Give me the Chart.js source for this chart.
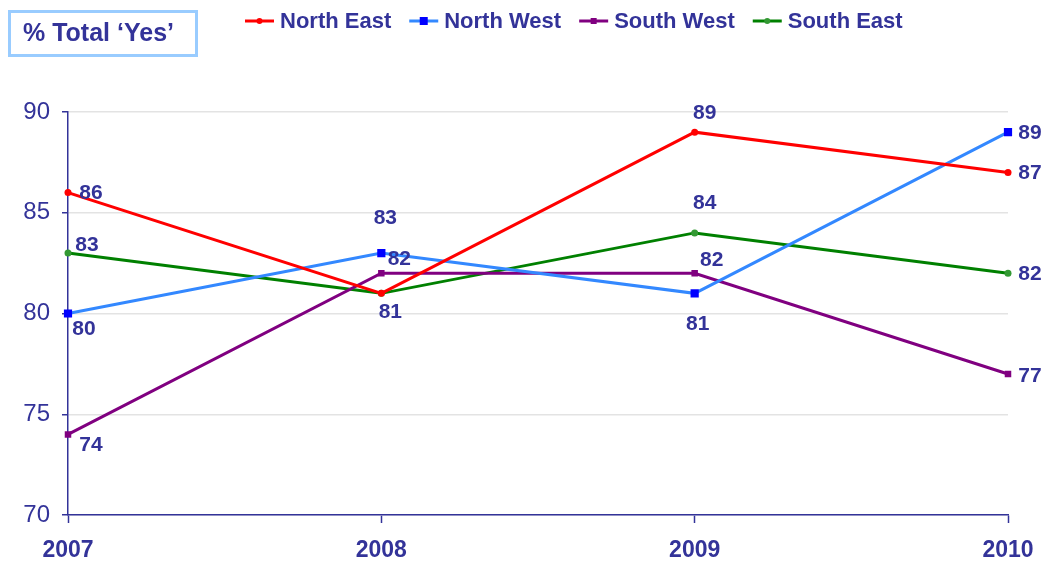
<!DOCTYPE html>
<html>
<head>
<meta charset="utf-8">
<script src="https://cdn.jsdelivr.net/npm/chart.js@4"></script>
<style>
  html, body { margin: 0; padding: 0; background: #fff; }
  #wrap { width: 1045px; height: 564px; }
</style>
</head>
<body>
<div id="wrap"><canvas id="myChart" width="1045" height="564"></canvas></div>
<script>
var years = ['2007', '2008', '2009', '2010'];
var northEast = [86, 81, 89, 87];
var northWest = [80, 83, 81, 89];
var southWest = [74, 82, 82, 77];
var southEast = [83, 81, 84, 82];
var yTicks = [70, 75, 80, 85, 90];

// where each value label sits relative to its point (null = not shown)
var labelOffsets = {
  'North East': [[23, 1], null, [10, -19], [22, 1]],
  'North West': [[16, 16], [4, -35], [3, 31], [22, 1]],
  'South West': [[23, 11], [18, -14], [17, -13], [22, 2]],
  'South East': [[19, -8], [9, 19], [10, -30], [22, 1]]
};

var navy = '#333399';
var font = 'Liberation Sans, Arial, sans-serif';

var valueLabels = {
  id: 'valueLabels',
  afterDatasetsDraw: function(chart) {
    var ctx = chart.ctx;
    ctx.save();
    ctx.font = 'bold 21px ' + font;
    ctx.fillStyle = navy;
    ctx.textAlign = 'center';
    ctx.textBaseline = 'middle';
    chart.data.datasets.forEach(function(ds, i) {
      var offs = labelOffsets[ds.label];
      chart.getDatasetMeta(i).data.forEach(function(pt, j) {
        if (!offs[j]) return;
        ctx.fillText(String(ds.data[j]), pt.x + offs[j][0], pt.y + offs[j][1]);
      });
    });
    ctx.restore();
  }
};

var headerBits = {
  id: 'headerBits',
  afterDraw: function(chart) {
    var ctx = chart.ctx;
    ctx.save();
    // title box
    ctx.strokeStyle = '#99CCFF';
    ctx.lineWidth = 3;
    ctx.strokeRect(9.5, 11.5, 187, 44);
    ctx.font = 'bold 25px ' + font;
    ctx.fillStyle = navy;
    ctx.textBaseline = 'middle';
    ctx.textAlign = 'left';
    ctx.fillText('% Total \u2018Yes\u2019', 23, 34);

    // legend
    var x = 245, y = 21;
    ctx.font = 'bold 22px ' + font;
    chart.data.datasets.forEach(function(ds) {
      ctx.strokeStyle = ds.borderColor;
      ctx.lineWidth = 3;
      ctx.beginPath();
      ctx.moveTo(x, y);
      ctx.lineTo(x + 29, y);
      ctx.stroke();
      ctx.fillStyle = ds.pointBackgroundColor;
      var cx = x + 14.5;
      if (ds.pointStyle === 'rect') {
        var s = ds.legendMark;
        ctx.fillRect(cx - s / 2, y - s / 2, s, s);
      } else {
        ctx.beginPath();
        ctx.arc(cx, y, 3, 0, Math.PI * 2);
        ctx.fill();
      }
      ctx.fillStyle = navy;
      ctx.fillText(ds.label, x + 35, y + 1);
      x += 35 + ctx.measureText(ds.label).width + 18;
    });
    ctx.restore();
  }
};

var ctx = document.getElementById('myChart').getContext('2d');
var myChart = new Chart(ctx, {
  type: 'line',
  data: {
    labels: years,
    datasets: [
      {
        label: 'North East',
        data: northEast,
        borderColor: '#FF0000',
        backgroundColor: '#FF0000',
        pointBackgroundColor: '#FF0000',
        pointBorderWidth: 0,
        pointStyle: 'circle',
        pointRadius: 3.5,
        borderWidth: 3
      },
      {
        label: 'North West',
        data: northWest,
        borderColor: '#3388FF',
        backgroundColor: '#0000FF',
        pointBackgroundColor: '#0000FF',
        pointBorderWidth: 0,
        pointStyle: 'rect',
        pointRadius: 5.8,
        legendMark: 8,
        borderWidth: 3
      },
      {
        label: 'South West',
        data: southWest,
        borderColor: '#800080',
        backgroundColor: '#800080',
        pointBackgroundColor: '#800080',
        pointBorderWidth: 0,
        pointStyle: 'rect',
        pointRadius: 4.6,
        legendMark: 6,
        borderWidth: 3
      },
      {
        label: 'South East',
        data: southEast,
        borderColor: '#008000',
        backgroundColor: '#008000',
        pointBackgroundColor: '#339933',
        pointBorderWidth: 0,
        pointStyle: 'circle',
        pointRadius: 3.5,
        borderWidth: 3
      }
    ]
  },
  options: {
    responsive: false,
    animation: false,
    layout: { padding: { left: 23, right: 37, top: 112, bottom: 0 } },
    scales: {
      x: {
        offset: false,
        grid: { drawOnChartArea: false, tickLength: 8, tickColor: navy, tickWidth: 1.5 },
        border: { color: navy, width: 1.5 },
        ticks: { color: navy, padding: 14, font: { family: font, size: 23, weight: 'bold' } },
        afterFit: function(scale) {
          scale.height = 49;
          scale.paddingLeft = 0;
          scale.paddingRight = 0;
        }
      },
      y: {
        min: 70,
        max: 90,
        afterBuildTicks: function(scale) {
          scale.ticks = yTicks.map(function(v) { return { value: v }; });
        },
        grid: { color: '#E3E3E3', lineWidth: 1.5, tickLength: 6, tickColor: navy, tickWidth: 1.5 },
        border: { color: navy, width: 1.5 },
        ticks: { color: navy, padding: 12, font: { family: font, size: 24 } },
        afterFit: function(scale) { scale.width = 45; }
      }
    },
    plugins: {
      legend: { display: false },
      tooltip: { enabled: false }
    }
  },
  plugins: [valueLabels, headerBits]
});
</script>
</body>
</html>
